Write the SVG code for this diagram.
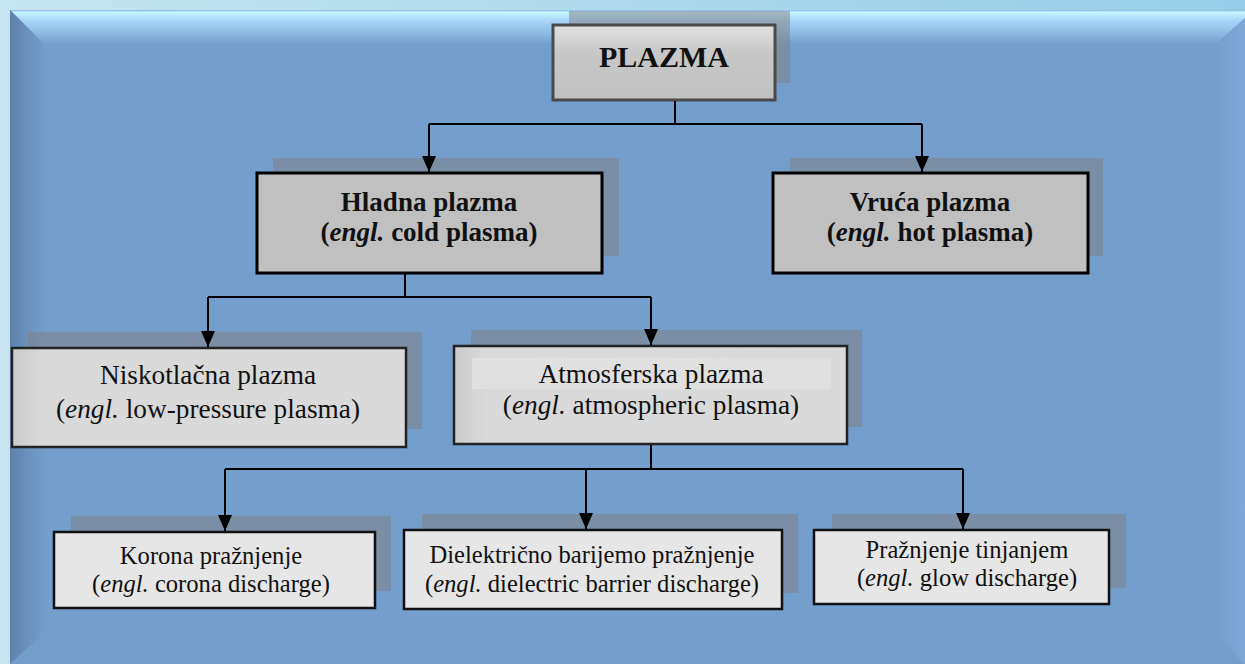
<svg xmlns="http://www.w3.org/2000/svg" width="1245" height="664" viewBox="0 0 1245 664">
<defs>
<linearGradient id="outer" x1="0" y1="0" x2="1" y2="0"><stop offset="0" stop-color="#c6e4ef"/><stop offset="1" stop-color="#94cee6"/></linearGradient>
<linearGradient id="bevTop" x1="0" y1="0" x2="0" y2="1"><stop offset="0" stop-color="#8ab2e6"/><stop offset="0.06" stop-color="#c4f6ff"/><stop offset="0.3" stop-color="#a8d6fa"/><stop offset="1" stop-color="#749ecc"/></linearGradient>
<linearGradient id="bevLeft" x1="0" y1="0" x2="1" y2="0"><stop offset="0" stop-color="#5f82ac"/><stop offset="1" stop-color="#749ecc"/></linearGradient>
<linearGradient id="bevRight" x1="0" y1="0" x2="1" y2="0"><stop offset="0" stop-color="#749ecc"/><stop offset="1" stop-color="#7ea8d8"/></linearGradient>
<linearGradient id="gTop" x1="0" y1="0" x2="0" y2="1"><stop offset="0" stop-color="#e2e2e2"/><stop offset="0.35" stop-color="#c8c8c8"/><stop offset="1" stop-color="#c0c0c0"/></linearGradient>
<linearGradient id="gMid" x1="0" y1="0" x2="1" y2="0"><stop offset="0" stop-color="#cbcbcb"/><stop offset="0.08" stop-color="#d9d9d9"/><stop offset="1" stop-color="#dadada"/></linearGradient>
<marker id="arr" viewBox="0 0 16 14" refX="16" refY="7" markerWidth="16" markerHeight="14" markerUnits="userSpaceOnUse" orient="auto">
<path d="M0,0 L16,7 L0,14 Z" fill="#000"/>
</marker>
<style>
.shadow{fill:#808080;fill-opacity:0.52}
.b1{fill:url(#gTop);stroke:#4a4a4a;stroke-width:3}
.b2{fill:#c0c0c0;stroke:#000;stroke-width:3}
.b3{fill:url(#gMid);stroke:#222;stroke-width:2.5}
.b4{fill:#e6e6e6;stroke:#111;stroke-width:2.5}
text{font-family:"Liberation Serif","Times New Roman",serif;fill:#111;text-anchor:middle}
.bold{font-weight:bold;font-size:27px}
.mid{font-size:27.3px}
.low{font-size:24.6px}
.conn{fill:none;stroke:#000;stroke-width:2}
</style>
</defs>
<rect x="0" y="0" width="1245" height="664" fill="url(#outer)"/>
<rect x="10" y="10" width="1235" height="654" fill="#749ecc"/>
<polygon points="10,10 1245,10 1245,18 1215,45 45,45" fill="url(#bevTop)"/>
<polygon points="10,10 45,45 45,632 10,664" fill="url(#bevLeft)"/>
<polygon points="1245,18 1245,664 1215,634 1215,45" fill="url(#bevRight)"/>

<g id="plazma">
<rect class="shadow" x="569" y="11" width="221" height="72"/>
<rect class="b1" x="553" y="25" width="222" height="75"/>
<text class="bold" x="664" y="67" style="font-size:30px">PLAZMA</text>
</g>

<g id="hladna">
<rect class="shadow" x="273" y="158" width="346" height="98"/>
<rect class="b2" x="257" y="173" width="345" height="100"/>
<text class="bold" x="429" y="211">Hladna plazma</text>
<text class="bold" x="429" y="241">(<tspan font-style="italic">engl.</tspan> cold plasma)</text>
</g>

<g id="vruca">
<rect class="shadow" x="790" y="158" width="313" height="98"/>
<rect class="b2" x="773" y="173" width="315" height="100"/>
<text class="bold" x="930" y="211">Vruća plazma</text>
<text class="bold" x="930" y="241">(<tspan font-style="italic">engl.</tspan> hot plasma)</text>
</g>

<g id="niskotlacna">
<rect class="shadow" x="28" y="332" width="394" height="97"/>
<rect class="b3" x="12" y="348" width="394" height="99"/>
<text class="mid" x="208" y="384">Niskotlačna plazma</text>
<text class="mid" x="208" y="418">(<tspan font-style="italic">engl.</tspan> low-pressure plasma)</text>
</g>

<g id="atmosferska">
<rect class="shadow" x="471" y="330" width="391" height="97"/>
<rect class="b3" x="454" y="346" width="393" height="98"/>
<rect x="472" y="358" width="359" height="31" fill="#e0e0e0"/>
<text class="mid" x="651" y="383">Atmosferska plazma</text>
<text class="mid" x="651" y="414">(<tspan font-style="italic">engl.</tspan> atmospheric plasma)</text>
</g>

<g id="korona">
<rect class="shadow" x="71" y="516" width="320" height="75"/>
<rect class="b4" x="54" y="532" width="321" height="76"/>
<text class="low" x="211" y="564">Korona pražnjenje</text>
<text class="low" x="211" y="592">(<tspan font-style="italic">engl.</tspan> corona discharge)</text>
</g>

<g id="dbd">
<rect class="shadow" x="422" y="514" width="376" height="79"/>
<rect class="b4" x="404" y="530" width="378" height="79"/>
<text class="low" x="592" y="563">Dielektrično barijemo pražnjenje</text>
<text class="low" x="592" y="592">(<tspan font-style="italic">engl.</tspan> dielectric barrier discharge)</text>
</g>

<g id="glow">
<rect class="shadow" x="832" y="514" width="294" height="74"/>
<rect class="b4" x="814" y="530" width="295" height="74"/>
<text class="low" x="967" y="558">Pražnjenje tinjanjem</text>
<text class="low" x="967" y="586">(<tspan font-style="italic">engl.</tspan> glow discharge)</text>
</g>

<g id="connectors">
<path class="conn" d="M675,101 V124 M429,124 H922"/>
<path class="conn" d="M429,124 V172" marker-end="url(#arr)"/>
<path class="conn" d="M922,124 V172" marker-end="url(#arr)"/>
<path class="conn" d="M405,274 V297 M208,297 H651"/>
<path class="conn" d="M208,297 V347" marker-end="url(#arr)"/>
<path class="conn" d="M651,297 V345" marker-end="url(#arr)"/>
<path class="conn" d="M651,445 V469 M225,469 H963"/>
<path class="conn" d="M225,469 V531" marker-end="url(#arr)"/>
<path class="conn" d="M586,469 V529" marker-end="url(#arr)"/>
<path class="conn" d="M963,469 V529" marker-end="url(#arr)"/>
</g>
</svg>
